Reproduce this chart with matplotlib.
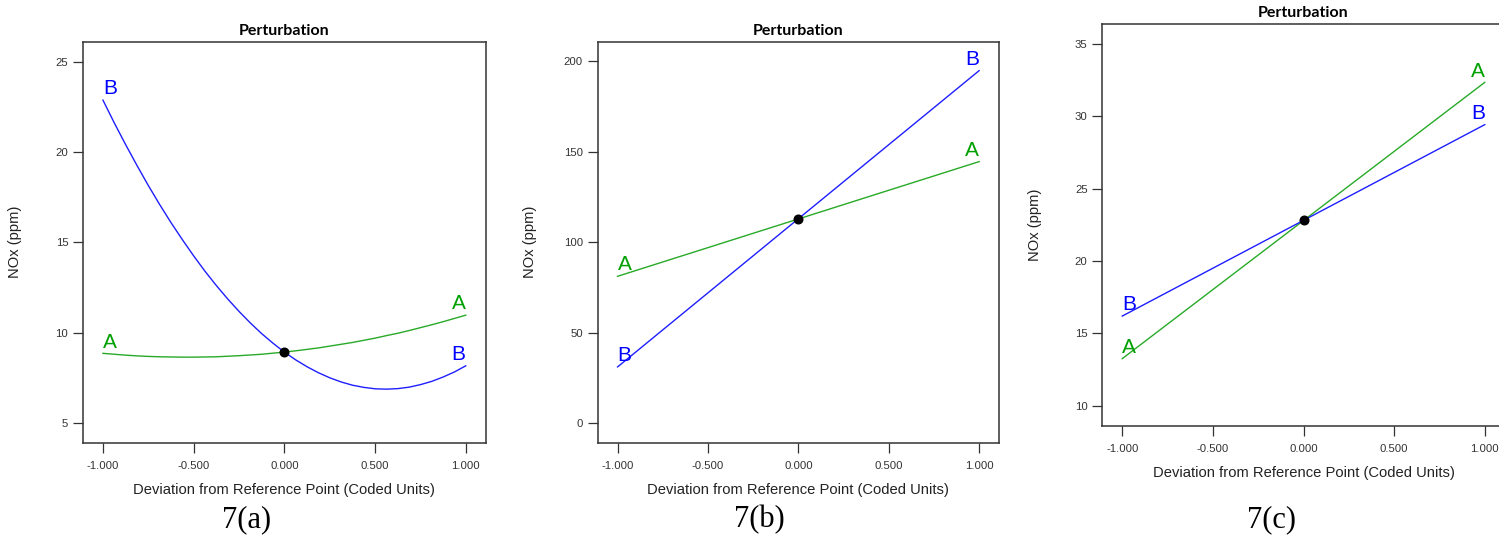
import matplotlib
matplotlib.use("Agg")
import matplotlib.pyplot as plt

# coded factor levels (x axis)
x_curve = [-1.0, -0.9375, -0.875, -0.8125, -0.75, -0.6875, -0.625, -0.5625,
           -0.5, -0.4375, -0.375, -0.3125, -0.25, -0.1875, -0.125, -0.0625,
           0.0, 0.0625, 0.125, 0.1875, 0.25, 0.3125, 0.375, 0.4375,
           0.5, 0.5625, 0.625, 0.6875, 0.75, 0.8125, 0.875, 0.9375, 1.0]
x_line = [-1.0, 0.0, 1.0]

# 7(a) - curved responses
a_A = [8.87, 8.82, 8.77, 8.73, 8.70, 8.68, 8.67, 8.66,
       8.66, 8.67, 8.68, 8.71, 8.74, 8.78, 8.82, 8.88,
       8.94, 9.01, 9.09, 9.17, 9.27, 9.37, 9.47, 9.59,
       9.71, 9.85, 9.98, 10.13, 10.29, 10.45, 10.62, 10.80, 10.98]
a_B = [22.87, 21.61, 20.41, 19.26, 18.15, 17.10, 16.10, 15.16,
       14.26, 13.41, 12.62, 11.88, 11.19, 10.55, 9.96, 9.43,
       8.94, 8.51, 8.13, 7.80, 7.52, 7.29, 7.11, 6.99,
       6.91, 6.89, 6.92, 7.00, 7.14, 7.32, 7.56, 7.84, 8.18]
a_ref = 8.94

# 7(b)
b_A = [81.1, 112.8, 144.5]
b_B = [31.0, 112.9, 194.8]
b_ref = 112.8

# 7(c)
c_A = [13.25, 22.79, 32.33]
c_B = [16.19, 22.80, 29.41]
c_ref = 22.82

x_ticks = [-1.0, -0.5, 0.0, 0.5, 1.0]
a_yticks = [5, 10, 15, 20, 25]
b_yticks = [0, 50, 100, 150, 200]
c_yticks = [10, 15, 20, 25, 30, 35]
captions = ["7(a)", "7(b)", "7(c)"]

W, H = 1499, 535
BLUE_LINE = "#1e1eff"
GREEN_LINE = "#28aa28"
BLUE_TXT = "#0000ff"
GREEN_TXT = "#00a000"
SANS = ["Liberation Sans", "DejaVu Sans"]


def px_box(left, top, right, bottom):
    return [left / W, 1 - bottom / H, (right - left) / W, (bottom - top) / H]


def panel(ax, xa, ya, xb, yb, ref, ylim, yticks):
    ax.plot(xa, ya, color=GREEN_LINE, lw=1.0)
    ax.plot(xb, yb, color=BLUE_LINE, lw=1.0)
    ax.plot([0.0], [ref], "o", color="black", ms=6.2, zorder=5)

    # series letters sit just above both ends of every line
    for xs, ys, lab, col in [(xa, ya, "A", GREEN_TXT), (xb, yb, "B", BLUE_TXT)]:
        ax.annotate(lab, (xs[0], ys[0]), xytext=(0, 4.2), textcoords="offset points",
                    ha="left", va="baseline", color=col, fontsize=15, family=SANS)
        ax.annotate(lab, (xs[-1], ys[-1]), xytext=(0, 4.2), textcoords="offset points",
                    ha="right", va="baseline", color=col, fontsize=15, family=SANS)

    ax.set_xlim(-1.11, 1.11)
    ax.set_ylim(*ylim)
    ax.set_xticks(x_ticks)
    ax.set_xticklabels(["%.3f" % v for v in x_ticks])
    ax.set_yticks(yticks)
    ax.set_yticklabels([str(v) for v in yticks])
    ax.tick_params(axis="both", direction="out", length=7, width=0.9,
                   color="#333333", labelcolor="#333333", labelsize=8.2)
    ax.tick_params(axis="x", pad=6)
    ax.tick_params(axis="y", pad=3.6)
    for lbl in ax.get_xticklabels() + ax.get_yticklabels():
        lbl.set_family(SANS)
    for sp in ax.spines.values():
        sp.set_color("#333333")
        sp.set_linewidth(1.1)

    ax.set_title("Perturbation", fontsize=11.5, fontweight="bold",
                 family=["Lato", "DejaVu Sans"], pad=5)
    ax.set_xlabel("Deviation from Reference Point (Coded Units)", fontsize=10.6,
                  family=SANS, color="#222222")
    ax.set_ylabel("NOx (ppm)", fontsize=10.6, family=SANS, color="#222222")
    wpx = ax.get_position().width * W
    hpx = ax.get_position().height * H
    ax.xaxis.set_label_coords(0.5, -40.5 / hpx)
    ax.yaxis.set_label_coords(-60.6 / wpx, 0.5)


fig = plt.figure(figsize=(W / 100, H / 100), dpi=100)

ax1 = fig.add_axes(px_box(83, 41.7, 485.7, 442.7))
panel(ax1, x_curve, a_A, x_curve, a_B, a_ref, (3.93, 26.1), a_yticks)

ax2 = fig.add_axes(px_box(597.7, 41.7, 999, 442.7))
panel(ax2, x_line, b_A, x_line, b_B, b_ref, (-10.9, 210.8), b_yticks)

ax3 = fig.add_axes(px_box(1102.3, 24, 1504.7, 425.7))
panel(ax3, x_line, c_A, x_line, c_B, c_ref, (8.62, 36.36), c_yticks)

# figure captions under each panel
for cx, txt in zip([246.7, 759.3, 1271.3], captions):
    fig.text(cx / W, 1 - 527 / H, txt, ha="center", va="baseline",
             fontsize=22, family=["Liberation Serif", "DejaVu Serif"])

fig.savefig("out.png", dpi=100)
